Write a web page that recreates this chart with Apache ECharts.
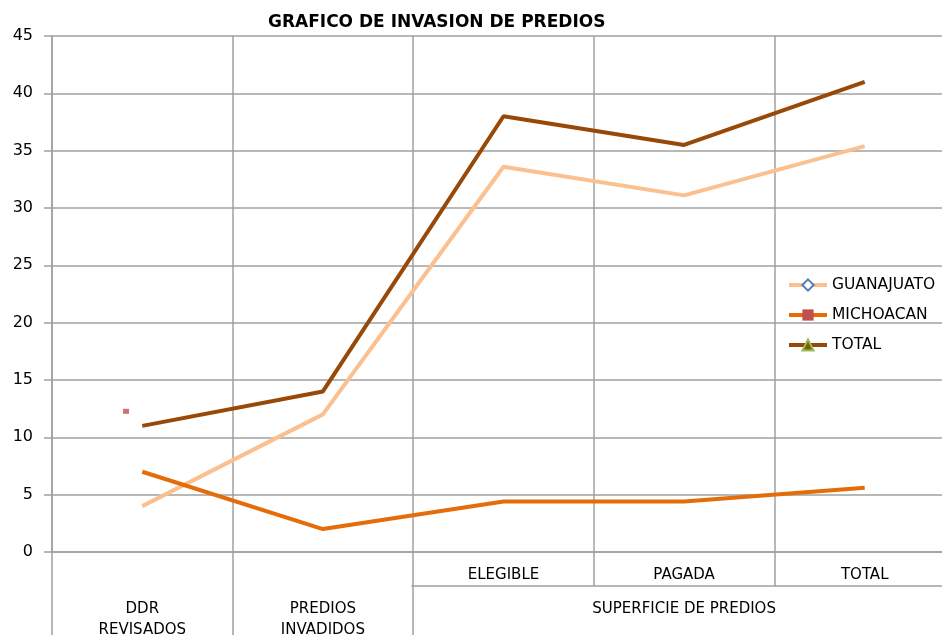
<!DOCTYPE html>
<html>
<head>
<meta charset="utf-8">
<script src="https://cdn.jsdelivr.net/npm/echarts@6/dist/echarts.min.js"></script>
<style>html,body{margin:0;padding:0;background:#fff}#c{width:942px;height:635px}</style>
</head>
<body>
<div id="c"></div>
<script>
var titleText = 'GRAFICO DE INVASION DE PREDIOS';
var level1 = ['', '', 'ELEGIBLE', 'PAGADA', 'TOTAL'];
var level2 = ['DDR\nREVISADOS', 'PREDIOS\nINVADIDOS', '', 'SUPERFICIE DE PREDIOS', ''];
var seriesNames = ['GUANAJUATO', 'MICHOACAN', 'TOTAL'];
var guanajuato = [4, 12, 33.6, 31.1, 35.4];
var michoacan = [7, 2, 4.4, 4.4, 5.6];
var total = [11, 14, 38, 35.5, 41];
var strayPoint = [[0.41, 12.27]];
var yMin = 0, yMax = 45, yStep = 5;

var FONT = 'DejaVu Sans';
var GRID_C = '#a0a0a0';
var chart = echarts.init(document.getElementById('c'), null, {renderer: 'canvas'});
chart.setOption({
  animation: false,
  backgroundColor: '#fff',
  title: {
    text: titleText, left: 268, top: 14, padding: 0,
    textStyle: {fontFamily: FONT, fontWeight: 'bold', fontSize: 17, color: '#000'}
  },
  legend: {
    orient: 'vertical', left: 787, top: 277, padding: 0,
    itemWidth: 38, itemHeight: 14, itemGap: 14,
    lineStyle: {width: 4},
    textStyle: {fontFamily: FONT, fontSize: 15.5, color: '#000', padding: [0, 0, 0, 0]},
    data: seriesNames
  },
  grid: [
    {left: 52, right: -13, top: 36, bottom: 83, outerBoundsMode: 'none', containLabel: false},
    {left: 412, right: -13, bottom: 49, height: 1, outerBoundsMode: 'none', containLabel: false}
  ],
  xAxis: [
    {
      type: 'category', gridIndex: 0, data: level1, boundaryGap: true, position: 'bottom',
      axisLine: {show: true, lineStyle: {color: GRID_C, width: 1.5}},
      axisTick: {show: true, length: 34, interval: 0, lineStyle: {color: GRID_C, width: 1.5}},
      splitLine: {show: true, interval: 0, lineStyle: {color: GRID_C, width: 1.5}},
      axisLabel: {interval: 0, margin: 16, fontFamily: FONT, fontSize: 15, color: '#000'}
    },
    {
      type: 'category', gridIndex: 0, data: level2, boundaryGap: true, position: 'bottom', offset: 34,
      axisLine: {show: false},
      axisTick: {show: true, length: 49, interval: function (i) { return i <= 2; }, lineStyle: {color: GRID_C, width: 1.5}},
      splitLine: {show: false},
      axisLabel: {interval: 0, margin: 13, lineHeight: 21, fontFamily: FONT, fontSize: 15, color: '#000'}
    },
    {
      type: 'value', gridIndex: 1, min: 0, max: 1,
      axisLine: {show: true, onZero: false, lineStyle: {color: GRID_C, width: 1.5}},
      axisTick: {show: false}, axisLabel: {show: false}, splitLine: {show: false}
    },
    {
      type: 'value', gridIndex: 0, min: 0, max: 5, show: false
    }
  ],
  yAxis: [
    {
      type: 'value', gridIndex: 0, min: yMin, max: yMax, interval: yStep,
      axisLine: {show: true, lineStyle: {color: GRID_C, width: 1.5}},
      axisTick: {show: true, length: 8, lineStyle: {color: GRID_C, width: 1.5}},
      splitLine: {show: true, lineStyle: {color: GRID_C, width: 1.5}},
      axisLabel: {margin: 19, fontFamily: FONT, fontSize: 16, color: '#000'}
    },
    {type: 'value', gridIndex: 1, show: false}
  ],
  series: [
    {
      name: seriesNames[0], type: 'line', xAxisIndex: 0, yAxisIndex: 0, data: guanajuato,
      showSymbol: false, symbol: 'diamond', symbolSize: 9,
      itemStyle: {color: '#ffffff', borderColor: '#4F81BD', borderWidth: 1.5},
      lineStyle: {color: '#FAC090', width: 4}
    },
    {
      name: seriesNames[1], type: 'line', xAxisIndex: 0, yAxisIndex: 0, data: michoacan,
      showSymbol: false, symbol: 'rect', symbolSize: 9,
      itemStyle: {color: '#C0504D', borderColor: '#C0504D'},
      lineStyle: {color: '#E46C0A', width: 4}
    },
    {
      name: seriesNames[2], type: 'line', xAxisIndex: 0, yAxisIndex: 0, data: total,
      showSymbol: false, symbol: 'triangle', symbolSize: 9,
      itemStyle: {color: '#7F6000', borderColor: '#9BBB59', borderWidth: 1.5},
      lineStyle: {color: '#984807', width: 4}
    },
    {
      name: 'stray', type: 'scatter', xAxisIndex: 3, yAxisIndex: 0, data: strayPoint,
      symbol: 'rect', symbolSize: [6, 5], itemStyle: {color: '#C0504D'}, silent: true
    }
  ]
});
</script>
</body>
</html>
